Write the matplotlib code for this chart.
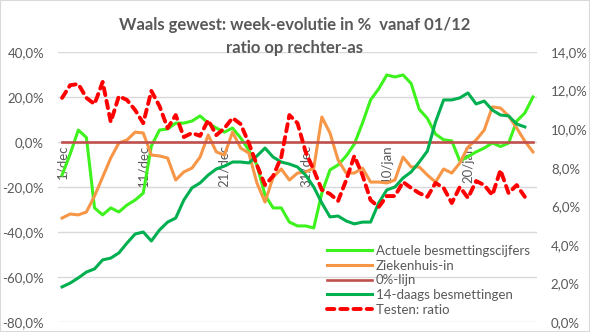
import numpy as np
import pandas as pd
import matplotlib
matplotlib.use("Agg")
import matplotlib.pyplot as plt
from matplotlib.patches import Rectangle
from matplotlib.ticker import FuncFormatter, MultipleLocator

plt.rcParams['font.family'] = ['Lato', 'DejaVu Sans']

# dagen 01/12 -> 28/01
dagen = pd.date_range("2020-12-01", "2021-01-28", freq="D")
maanden = {12: "dec", 1: "jan"}
dag_labels = [f"{d.day}/{maanden[d.month]}" for d in dagen]

# week-evolutie in % (linker as)
actuele = [-14.7, -5.3, 5.3, 2.0, -29.3, -32.4, -29.3, -31.1, -28.0, -25.8,
           -22.7, -1.8, 5.3, 5.8, 8.4, 8.4, 9.3, 11.6, 8.4, 6.2,
           4.4, 6.2, 1.8, -3.6, -10.2, -23.6, -29.3, -29.3, -35.6, -37.3,
           -37.3, -38.2, -22.7, -12.4, -10.2, -6.2, -0.9, 8.4, 18.7, 23.6,
           29.8, 28.9, 29.8, 26.0, 14.5, 10.5, 3.5, 1.0, 0.5, -8.5,
           -6.5, -4.4, -2.7, -0.4, -2.0, -0.5, 9.3, 12.9, 20.0]
ziekenhuis = [-33.8, -32.0, -32.4, -31.1, -24.0, -15.6, -7.1, -0.4, 0.9, 4.4,
              4.0, -5.8, -6.2, -7.1, -16.9, -13.3, -11.6, -6.7, 3.1, -4.4,
              -5.8, 4.4, -2.7, -4.9, -18.2, -26.7, -15.6, -12.0, -16.9, -13.8,
              -13.3, -11.6, 11.1, 4.0, -8.0, -13.8, -13.8, -11.6, -17.8, -17.8,
              -18.2, -16.9, -6.7, -11.1, -11.1, -14.7, -17.8, -12.0, -13.8, -9.3,
              -2.2, 0.9, 5.3, 15.6, 15.1, 11.6, 6.2, 0.4, -4.4]
nul_lijn = [0.0] * len(dagen)
veertiendaags = [-64.4, -62.7, -60.4, -57.8, -56.4, -52.4, -51.6, -49.3, -44.9, -40.9,
                 -40.0, -44.0, -39.1, -35.6, -33.8, -25.8, -20.4, -18.2, -14.7, -12.0,
                 -10.7, -8.9, -8.9, -9.3, -6.2, -2.7, -6.7, -8.9, -9.8, -11.1,
                 -14.7, -20.0, -27.1, -33.3, -32.9, -35.1, -36.4, -35.6, -35.6, -27.1,
                 -21.3, -20.0, -16.0, -13.3, -8.9, -4.0, 8.9, 18.7, 18.7, 19.6,
                 21.8, 16.9, 18.2, 14.2, 12.0, 11.6, 8.0, 6.7, np.nan]

# ratio testen (rechter as)
testen_ratio = [11.62, 12.28, 12.34, 11.62, 11.30, 12.45, 10.37, 11.71, 11.51, 10.99,
                10.31, 11.98, 11.20, 10.05, 10.73, 9.59, 9.80, 9.65, 10.47, 9.69,
                10.05, 10.58, 10.26, 9.28, 8.14, 7.10, 7.57, 8.55, 10.73, 10.31,
                8.82, 7.88, 6.85, 6.64, 6.28, 7.36, 8.61, 7.62, 6.32, 5.96,
                6.53, 6.53, 7.26, 6.95, 6.68, 6.49, 7.21, 6.95, 6.17, 7.00,
                6.43, 7.31, 7.10, 6.58, 7.88, 6.68, 7.10, 6.49, np.nan]

grijs = "#595959"
x = np.arange(len(dagen))

fig = plt.figure(figsize=(5.9, 3.32), dpi=100)
ax = fig.add_axes([58 / 590, 1 - 322 / 332, (537 - 58) / 590, (322 - 52) / 332])
ax2 = ax.twinx()

l1, = ax.plot(x, actuele, color="#3DF21D", lw=2.2, label="Actuele besmettingscijfers")
l2, = ax.plot(x, ziekenhuis, color="#F79646", lw=2.2, label="Ziekenhuis-in")
l3, = ax.plot(x, nul_lijn, color="#C0504D", lw=1.9, label="0%-lijn")
l4, = ax.plot(x, veertiendaags, color="#00B050", lw=2.2, label="14-daags besmettingen")
l5, = ax2.plot(x, testen_ratio, color="#FF0000", lw=2.8, dashes=(1.9, 1.5),
               dash_capstyle="round", label="Testen: ratio")

ax.set_xlim(-0.5, len(dagen) - 0.5)
ax.set_ylim(-80, 40)
ax2.set_ylim(0, 14)
ax.yaxis.set_major_locator(MultipleLocator(20))
ax2.yaxis.set_major_locator(MultipleLocator(2))

fmt = FuncFormatter(lambda v, p: f"{v:.1f}%".replace(".", ","))
ax.yaxis.set_major_formatter(fmt)
ax2.yaxis.set_major_formatter(fmt)

ax.grid(axis="y", color="#D9D9D9", lw=1)
ax.set_axisbelow(True)
for a in (ax, ax2):
    for s in a.spines.values():
        s.set_visible(False)
    a.tick_params(axis="y", length=0, labelsize=9.5, colors=grijs, pad=10)

# categorie-as op de 0-lijn
ax.spines["bottom"].set_position(("data", 0))
ax.set_xticks(x[::10])
ax.set_xticklabels([dag_labels[i] for i in x[::10]], rotation=90, fontsize=9.5,
                   color=grijs, va="top", ha="center")
ax.tick_params(axis="x", length=0, pad=2)

fig.text(0.5, 1 - 25 / 332, "Waals gewest: week-evolutie in %  vanaf 01/12",
         ha="center", va="center", fontsize=12, fontweight="bold", color=grijs)
fig.text(0.5, 1 - 48 / 332, "ratio op rechter-as",
         ha="center", va="center", fontsize=12, fontweight="bold", color=grijs)

leg = ax2.legend(handles=[l1, l2, l3, l4, l5], loc="upper left",
                 bbox_to_anchor=(327 / 590, 1 - 245 / 332), bbox_transform=fig.transFigure,
                 frameon=False, fontsize=9.5, handlelength=3.4, handletextpad=0.3,
                 labelspacing=0.2, borderpad=0, borderaxespad=0)
for t in leg.get_texts():
    t.set_color(grijs)

fig.patches.append(Rectangle((0, 0), 1, 1, transform=fig.transFigure, fill=False,
                             ec="#D9D9D9", lw=1.5))

fig.savefig("out.png", dpi=100)
